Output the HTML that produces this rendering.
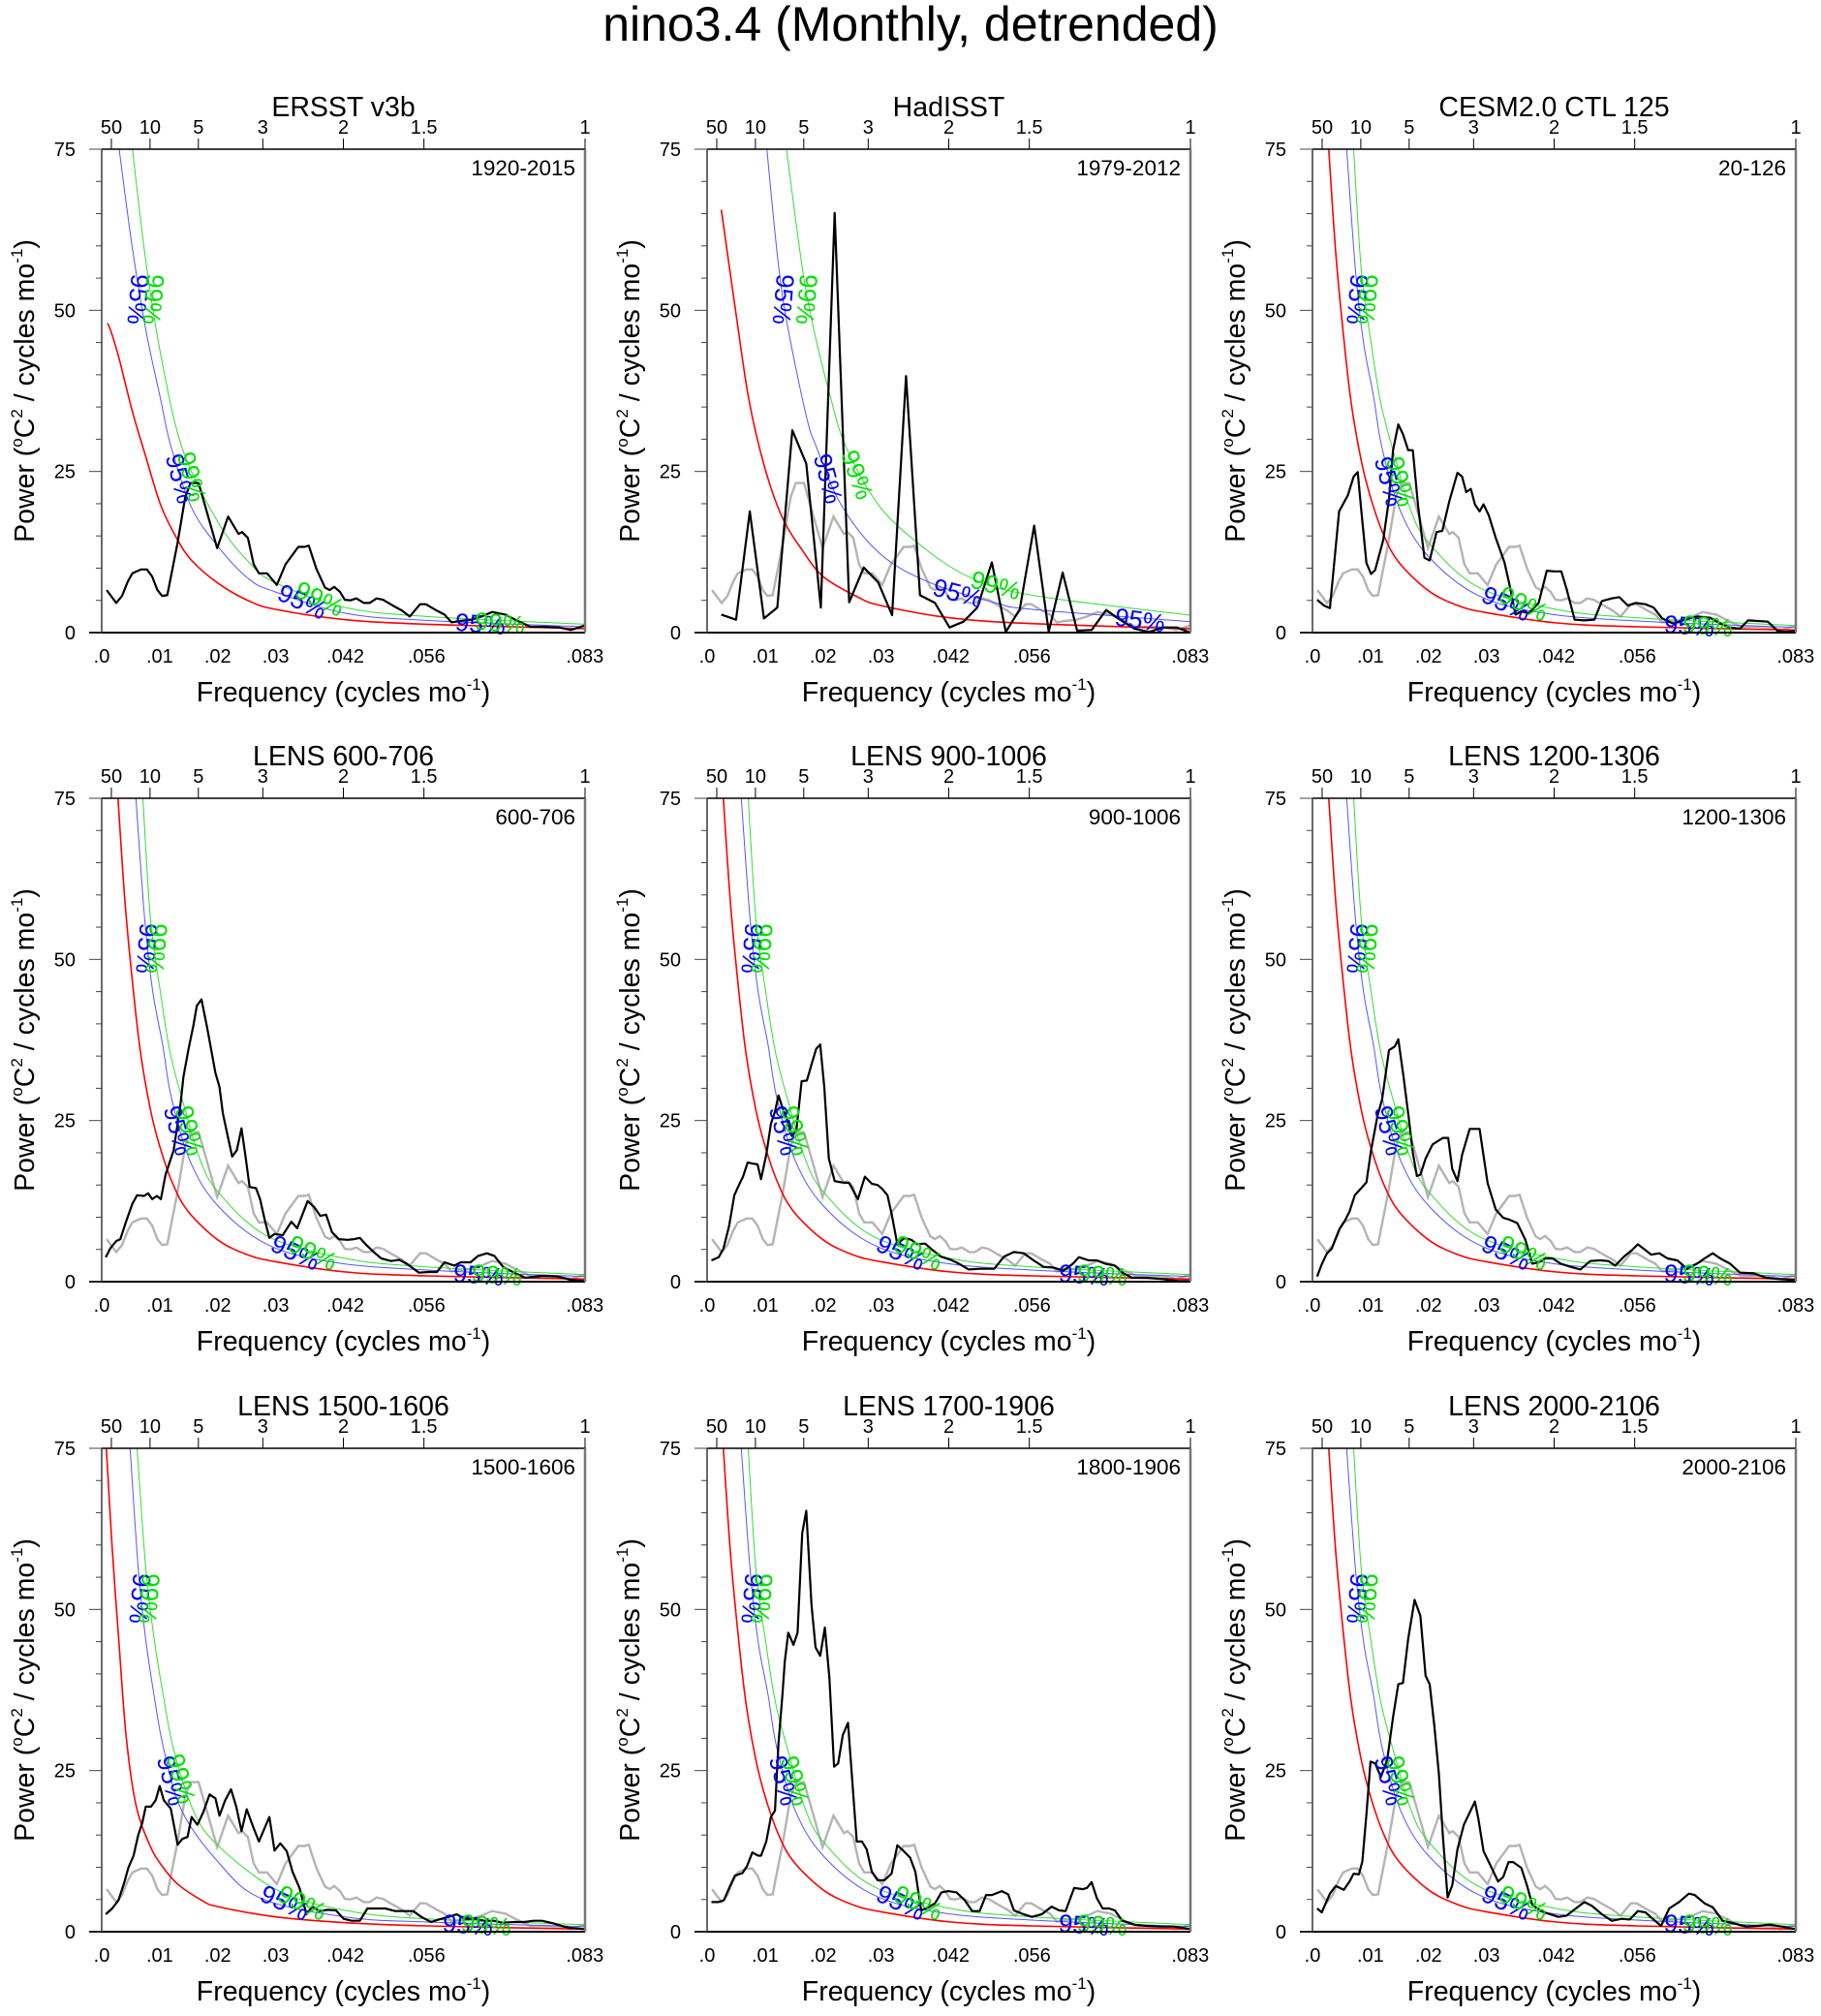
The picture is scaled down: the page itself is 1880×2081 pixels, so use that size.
<!DOCTYPE html>
<html><head><meta charset="utf-8"><title>nino3.4 spectra</title>
<style>
html,body{margin:0;padding:0;background:#fff;}
svg{display:block;font-family:"Liberation Sans",Arial,sans-serif;}
</style></head>
<body>
<svg id="chart" width="1880" height="2081" viewBox="0 0 1880 2081" xmlns="http://www.w3.org/2000/svg">
<rect width="1880" height="2081" fill="#fff"/>
<text x="940" y="42" font-size="50" text-anchor="middle">nino3.4 (Monthly, detrended)</text>
<g id="panels"></g>
</svg>
<script>
// ---- data (frequency in cycles/month, power in degC^2/(cycles/mo)) ----
const yTicks = [0, 25, 50, 75];
const xTickVals = [0, 0.01, 0.02, 0.03, 0.042, 0.056, 0.0833];
const xTickLabels = [".0", ".01", ".02", ".03", ".042", ".056", ".083"];
const periodTicks = [50, 10, 5, 3, 2, 1.5, 1];
const periodLabels = ["50", "10", "5", "3", "2", "1.5", "1"];
const panelTitles = ["ERSST v3b","HadISST","CESM2.0 CTL 125","LENS 600-706","LENS 900-1006","LENS 1200-1306","LENS 1500-1606","LENS 1700-1906","LENS 2000-2106"];
const panelPeriods = ["1920-2015","1979-2012","20-126","600-706","900-1006","1200-1306","1500-1606","1800-1906","2000-2106"];

const ersstFreq = [.00086,.0025,.0035,.0045,.0053,.0068,.0078,.0087,.0096,.0104,.0113,.0131,.0144,.0153,.0167,.0182,.0199,.0218,.0236,.0242,.0252,.0262,.0271,.0285,.0302,.0317,.0339,.0350,.0357,.0370,.0385,.0393,.0401,.0411,.0419,.0429,.0439,.0452,.0462,.0474,.0485,.0502,.0518,.0531,.0549,.0559,.0578,.0591,.0603,.0617,.0637,.0655,.0673,.0696,.0713,.0739,.0762,.0789,.0809,.0833];
const ersstPower = [6.6,4.6,5.7,7.9,9.2,9.8,9.8,8.7,6.6,5.7,5.8,14.0,21.0,23.2,23.2,18.5,13.1,18.0,15.3,15.6,14.7,10.6,9.2,9.2,7.4,10.6,13.3,13.3,13.5,9.9,7.0,6.6,7.1,6.3,5.1,5.0,5.3,4.6,4.6,5.3,5.1,4.2,3.4,2.5,4.4,4.4,3.4,2.8,1.6,1.8,2.0,2.5,3.2,2.8,2.0,0.9,0.9,0.8,0.4,1.1];

const hadFreq = [.00245,.005,.00736,.0098,.0121,.0147,.0171,.0196,.0220,.0245,.0270,.0295,.0319,.0343,.0367,.0393,.0418,.0442,.0466,.0491,.0515,.0539,.0564,.0589,.0613,.0638,.0663,.0688,.0712,.0737,.0762,.0786,.0810,.0833];
const hadPower = [2.8,2.0,18.8,2.2,3.9,31.4,26.2,3.9,65.1,4.7,10.1,7.8,2.7,39.8,5.8,4.6,0.8,1.7,3.9,10.9,0.1,3.6,16.6,0.1,9.3,0.3,0.4,3.5,2.0,0.6,0.1,0.8,0.8,0];

const cesmFreq = [.0008,.002,.003,.0046,.0061,.0071,.0078,.0084,.0093,.0101,.0108,.0122,.0132,.0139,.0148,.0156,.0165,.0173,.0182,.0193,.0202,.0214,.0224,.0236,.0250,.0258,.0265,.0273,.0280,.0288,.0295,.0304,.0316,.0331,.0339,.0350,.0360,.0373,.0390,.0404,.0416,.0429,.0438,.0452,.0469,.0486,.0499,.0516,.0529,.0544,.0557,.0574,.0588,.0603,.0622,.0642,.0663,.0686,.0703,.0720,.0737,.0751,.0768,.0785,.0802,.0816,.0832];
const cesmPower = [5.1,4.2,3.8,18.8,21.3,24.2,24.9,19.1,10.8,9.1,9.7,14.4,20.7,28.3,32.3,30.8,28.3,28.3,19.7,11.6,11.2,15.6,15.8,20.4,24.8,24.2,21.8,22.3,19.9,18.8,19.9,18.2,14.7,10.9,7.7,2.8,3.3,3.0,4.6,9.6,9.5,9.5,6.8,2.0,1.9,2.0,4.9,5.3,5.5,4.2,4.6,4.4,3.9,2.2,1.4,2.0,2.5,2.3,1.4,0.8,0.6,1.9,1.8,1.7,0.25,0.1,0.25];

const lens600Freq = [.0007,.0015,.0025,.0032,.0042,.0053,.0061,.0073,.008,.0087,.0095,.0102,.011,.0124,.0136,.0141,.015,.0158,.0164,.0172,.0182,.0196,.0203,.0209,.0218,.0225,.0233,.0241,.0248,.0255,.0266,.0273,.0281,.0289,.0298,.0312,.0327,.0337,.0355,.0366,.0377,.0387,.0397,.0409,.0424,.0435,.0445,.0455,.0469,.0482,.0499,.0513,.0527,.0547,.0564,.0578,.0591,.0608,.0619,.0636,.0649,.0664,.0677,.0692,.0711,.0731,.0759,.0786,.081,.0833];
const lens600Power = [3.8,5.2,6.3,6.6,9.3,12.1,13.4,13.3,13.7,12.8,13.3,12.8,16.6,20.4,27.6,31.8,36.2,39.7,42.8,43.8,39.3,32.4,30.2,26.1,22.3,19.4,20.4,23.8,19.4,14.7,14.5,12.8,9.6,6.8,7.4,7.2,9.3,8.3,12.5,11.6,10.2,10.4,7.7,6.6,6.5,6.6,6.8,5.8,4.6,3.6,3.2,3.4,2.7,1.4,1.5,1.5,3.0,2.5,3.0,3.0,4.0,4.4,4.0,2.3,1.4,0.6,0.9,0.8,0.25,0.1];

const lens900Freq = [.00075,.002,.0028,.0038,.0047,.0055,.0062,.007,.0079,.0087,.0093,.0102,.011,.0117,.0123,.013,.0137,.0146,.0154,.0163,.0172,.0181,.0188,.0195,.0202,.021,.022,.0232,.0245,.026,.0272,.0284,.0294,.0302,.0311,.0318,.0328,.034,.0352,.0362,.0376,.0389,.0403,.042,.0434,.0451,.0471,.0495,.0512,.0529,.0546,.0563,.058,.0597,.0614,.0631,.0641,.0658,.0672,.0686,.0703,.0716,.0733,.0757,.0785,.0812,.0833];
const lens900Power = [3.3,3.8,5.1,8.7,13.4,15.0,16.3,18.5,18.3,18.2,15.9,19.7,24.5,26.4,28.9,27.0,25.4,22.6,23.5,31.1,31.2,34.0,36.1,36.8,30.2,19.1,15.6,15.4,15.3,12.8,16.3,15.2,15.0,14.4,13.4,10.6,5.8,6.8,6.5,5.8,5.9,4.9,3.9,3.4,2.8,1.9,2.0,2.0,3.9,4.6,4.4,3.3,2.3,2.2,1.7,2.8,3.8,3.3,3.3,2.8,2.5,1.4,0.6,0.6,0.4,0.1,0.1];

const lens1200Freq = [.0008,.0016,.0025,.0033,.0047,.0055,.0064,.0073,.0081,.0093,.0101,.0112,.012,.0132,.0142,.0148,.0157,.0166,.0173,.018,.0186,.0195,.0207,.0216,.0225,.0234,.0241,.025,.0258,.0271,.0288,.0302,.0316,.0329,.034,.0353,.0367,.0379,.039,.0401,.0414,.0428,.0445,.0462,.0479,.0496,.051,.0522,.0537,.0551,.0561,.0574,.0584,.0598,.0612,.0629,.0646,.0663,.0676,.069,.0703,.072,.0737,.0761,.0782,.0805,.0832];
const lens1200Power = [0.8,2.7,4.4,5.1,8.2,9.3,10.9,13.4,14.2,15.4,20.4,25.7,28.3,35.9,36.5,37.6,31.8,25.4,20.0,16.4,16.6,19.1,21.3,21.8,22.3,22.3,17.5,15.6,19.7,23.7,23.7,15.3,11.2,9.9,9.6,9.1,6.5,2.8,3.0,3.6,3.6,2.8,2.3,1.9,3.2,3.3,3.2,2.5,3.9,4.9,5.8,4.9,4.2,4.4,3.6,3.3,2.0,2.8,3.6,4.4,3.6,2.8,1.4,1.3,0.6,0.4,0.25];

const lens1500Freq = [.0007,.0018,.0029,.0039,.0046,.0055,.0063,.007,.0076,.0085,.0093,.01,.0107,.0119,.0131,.0139,.0148,.0155,.0165,.0175,.0186,.0196,.0203,.0213,.0223,.0232,.0241,.025,.0261,.0271,.028,.0289,.0298,.0308,.0319,.0329,.0341,.0353,.0363,.0375,.039,.0404,.0417,.0431,.0445,.0458,.0475,.0489,.0506,.052,.0537,.0551,.0568,.0581,.0598,.0612,.0626,.0643,.066,.0677,.069,.0711,.0728,.0745,.0759,.0779,.0793,.0806,.0833];
const lens1500Power = [2.7,3.6,4.9,7.7,9.9,11.8,15.0,16.9,19.4,19.4,20.4,22.6,20.4,19.1,13.5,14.4,14.7,17.8,16.6,18.5,21.3,20.7,18.0,20.4,22.1,19.4,15.6,19.0,16.3,14.0,15.9,17.8,12.6,13.7,12.5,9.3,6.8,2.7,3.9,3.2,3.4,3.3,2.0,1.7,1.7,3.6,3.6,3.6,3.2,3.2,3.2,2.3,1.5,1.9,2.3,2.7,2.0,2.0,1.7,1.7,1.4,1.5,1.5,1.7,1.7,1.3,0.9,0.6,0.4];

const lens1800Freq = [.00075,.002,.0029,.0038,.0048,.0061,.0069,.0078,.0088,.0093,.0102,.011,.0117,.0123,.013,.0134,.014,.0149,.0156,.0164,.0171,.018,.0187,.0195,.0203,.0211,.0219,.0226,.0234,.0243,.0258,.0267,.0275,.0284,.0294,.0306,.0318,.0328,.0338,.035,.0359,.0369,.0382,.0393,.0404,.0416,.043,.0444,.0457,.047,.0481,.0491,.0508,.0519,.0529,.0543,.056,.0577,.0594,.0607,.0618,.0633,.0648,.0655,.0663,.0672,.0682,.0693,.0703,.0716,.0737,.0757,.0781,.0805,.0833];
const lens1800Power = [4.6,4.6,4.9,6.8,8.7,9.1,10.2,12.3,11.8,11.8,14.0,17.8,18.8,29.2,36.8,41.9,46.4,44.5,46.4,61.8,65.3,50.7,44.1,42.8,47.2,39.3,25.6,26.1,30.5,32.4,14.0,14.0,12.8,9.3,8.0,8.0,9.0,13.4,12.6,11.5,9.3,3.3,3.8,4.4,6.1,6.3,6.1,4.9,3.2,3.2,5.7,5.7,6.3,5.8,3.3,2.8,2.3,2.7,3.9,3.3,3.2,6.8,6.6,6.8,7.7,5.2,3.6,3.6,3.3,1.7,1.1,0.9,0.8,0.8,0.4];

const lens2000Freq = [.0008,.0016,.003,.004,.0054,.0064,.0071,.008,.0086,.0093,.01,.0108,.0118,.0129,.0139,.0148,.0156,.0165,.0176,.0186,.0195,.0202,.021,.0218,.0225,.0233,.0241,.025,.0261,.028,.0286,.0295,.0309,.032,.0329,.0338,.0346,.036,.037,.0379,.0394,.0407,.0424,.0438,.0454,.0469,.0482,.0499,.0516,.0533,.0547,.0561,.0574,.0588,.0601,.0615,.0632,.0649,.0659,.0676,.069,.0707,.0727,.0748,.0768,.0788,.0809,.0832];
const lens2000Power = [3.6,3.0,5.9,7.1,6.5,7.8,9.0,8.9,10.9,18.2,26.4,26.1,24.0,26.7,33.3,38.4,38.6,45.4,51.5,49.0,39.7,38.4,32.1,24.5,14.7,5.3,7.2,12.8,16.6,20.2,17.5,12.5,9.9,7.8,8.5,10.8,10.8,9.9,7.1,4.2,3.2,2.8,2.3,2.5,3.6,4.6,4.0,2.7,1.7,2.0,1.9,3.2,3.0,1.9,0.9,3.6,4.6,5.9,5.7,4.4,3.8,1.7,1.3,0.8,0.9,1.1,0.8,0.4];

// red-noise spectrum and 95% / 99% confidence curves
const ersstCurveFreq = [.001,.00165,.003,.0053,.0076,.0102,.0129,.0155,.02,.0254,.030,.042,.056,.0833];
const ersstRed   = [48,46.6,42.5,34.3,27.3,19.7,14.7,11.2,7.7,4.9,3.6,2.0,1.3,0.6];
const ersstBlueFreq = [.003,.0053,.0076,.0102,.0119,.0155,.02,.0254,.030,.042,.056,.0833];
const ersstBlue  = [75,59.6,47,36,29,19.4,13.4,8.3,6.3,3.0,1.9,0.9];
const ersstGreenFreq = [.0053,.0076,.0102,.0139,.02,.0254,.030,.042,.056,.0833];
const ersstGreen = [75,57.7,43,28.6,17.2,10.9,7.7,3.9,2.5,1.3];

const hadRedFreq = [.00245,.0048,.0072,.01,.013,.0164,.02,.026,.03,.0418,.056,.0833];
const hadRed   = [65.6,50.7,36.2,25.4,17.8,12.8,8.7,5.5,4.2,2.3,1.4,0.6];
const hadBlueFreq = [.0103,.0123,.014,.0171,.0188,.0232,.030,.0386,.0498,.056,.0833];
const hadBlue  = [75,57,47,33.6,28.9,19.7,12.1,7.7,4.6,3.6,1.7];
const hadGreenFreq = [.0137,.0164,.0185,.0212,.0239,.0294,.0362,.045,.056,.0833];
const hadGreen = [75,56.7,46.6,36.8,28.9,20,14,8.7,5.8,2.7];

const lensRedFreq = [.0028,.004,.0054,.0067,.0084,.01,.0122,.0149,.02,.0251,.03,.0421,.056,.0833];
const lensRed   = [75,59,45.7,35.5,26.7,21,15.3,10.9,6.5,4.2,3.1,1.5,0.9,0.4];
const lensBlueFreq = [.0059,.0074,.0088,.0105,.012,.0152,.02,.0285,.040,.056,.0833];
const lensBlue  = [75,56.4,45,36.8,28.6,18.8,11.8,5.8,3.0,1.8,0.8];
const lensGreenFreq = [.0071,.0084,.0101,.0118,.0142,.0169,.02,.0285,.042,.056,.0833];
const lensGreen = [75,56.4,45,35.5,27.3,19.1,14.0,7.1,3.6,2.3,1.1];

const l1500RedFreq = [.0008,.0018,.0029,.0042,.0059,.0083,.0104,.0131,.0172,.02,.03,.042,.056,.0833];
const l1500Red   = [75,59.6,45.7,30.5,19.7,13.4,10.2,7.4,4.9,3.9,2.3,1.4,0.9,0.4];
const l1500BlueFreq = [.0049,.0063,.0075,.009,.0107,.0138,.02,.0274,.042,.056,.0833];
const l1500Blue  = [75,56.4,46,36.8,28.3,18.8,10.9,5.2,2.3,1.5,0.8];
const l1500GreenFreq = [.0061,.0076,.009,.0107,.0124,.0158,.02,.0302,.042,.056,.0833];
const l1500Green = [75,56.4,45.7,36.2,28.3,18.8,13.4,6.5,3.3,2.0,1.1];

// ---- layout ----
const PW = 499, PH = 499, FMAX = 1/12, VMAX = 75;
const colLeft = [105, 730, 1355];
const rowTop = [154, 824, 1495];
const NS = 'http://www.w3.org/2000/svg';
const root = document.getElementById('panels');

function mk(tag, attrs, parent) {
  const e = document.createElementNS(NS, tag);
  for (const k in attrs) e.setAttribute(k, attrs[k]);
  if (parent) parent.appendChild(e);
  return e;
}
function xs(L, f) { return L + f / FMAX * PW; }
function ys(T, v) { return T + PH - v / VMAX * PH; }

function linePath(L, T, fr, pw) {
  let d = '';
  for (let i = 0; i < fr.length; i++) d += (i ? 'L' : 'M') + xs(L, fr[i]).toFixed(1) + ',' + ys(T, pw[i]).toFixed(1);
  return d;
}
function smoothPath(L, T, fr, pw) {
  const p = fr.map((f, i) => [xs(L, f), ys(T, pw[i])]);
  let d = 'M' + p[0][0].toFixed(1) + ',' + p[0][1].toFixed(1);
  for (let i = 0; i < p.length - 1; i++) {
    const p0 = p[i - 1] || p[i], p1 = p[i], p2 = p[i + 1], p3 = p[i + 2] || p2;
    const c1x = p1[0] + (p2[0] - p0[0]) / 6, c1y = p1[1] + (p2[1] - p0[1]) / 6;
    const c2x = p2[0] - (p3[0] - p1[0]) / 6, c2y = p2[1] - (p3[1] - p1[1]) / 6;
    d += 'C' + c1x.toFixed(1) + ',' + c1y.toFixed(1) + ' ' + c2x.toFixed(1) + ',' + c2y.toFixed(1) + ' ' + p2[0].toFixed(1) + ',' + p2[1].toFixed(1);
  }
  return d;
}

const panelSeries = [
  [ersstFreq, ersstPower], [hadFreq, hadPower], [cesmFreq, cesmPower],
  [lens600Freq, lens600Power], [lens900Freq, lens900Power], [lens1200Freq, lens1200Power],
  [lens1500Freq, lens1500Power], [lens1800Freq, lens1800Power], [lens2000Freq, lens2000Power]
];
const curveSets = {
  ersst: [ersstCurveFreq, ersstRed, ersstBlueFreq, ersstBlue, ersstGreenFreq, ersstGreen],
  had: [hadRedFreq, hadRed, hadBlueFreq, hadBlue, hadGreenFreq, hadGreen],
  lens: [lensRedFreq, lensRed, lensBlueFreq, lensBlue, lensGreenFreq, lensGreen],
  l1500: [l1500RedFreq, l1500Red, l1500BlueFreq, l1500Blue, l1500GreenFreq, l1500Green]
};
const panelCurves = ['ersst','had','lens','lens','lens','lens','l1500','lens','lens'];
// confidence label placement [dx, dy, rotation]
const labelSets = {
  ersst: [[37.6,155,95,'b'],[53.4,155,95,'g'],[81,340,75,'b'],[93,338,75,'g'],[207,467,25,'b'],[225,464,25,'g'],[391,490,5,'b'],[411,489,5,'g']],
  had: [[78.8,155,95,'b'],[103,155,95,'g'],[125,340,75,'b'],[155,336,70,'g'],[259,458,15,'b'],[298,450,15,'g'],[447,486,8,'b']],
  lens: [[46.5,155,95,'b'],[56.7,155,95,'g'],[79,343,75,'b'],[91,343,75,'g'],[200,469,25,'b'],[218,469,25,'g'],[389,492,5,'b'],[408,492,5,'g']],
  l1500: [[39.6,155,95,'b'],[49,155,95,'g'],[72,343,75,'b'],[82,341,75,'g'],[189,469,25,'b'],[207,469,25,'g'],[378,492,5,'b'],[397,492,5,'g']]
};

for (let p = 0; p < 9; p++) {
  const L = colLeft[p % 3], T = rowTop[Math.floor(p / 3)];
  const g = mk('g', {}, root);
  
  
  const cp = mk('clipPath', {id: 'clip' + p}, g);
  mk('rect', {x: L, y: T, width: PW, height: PH}, cp);

  // title
  const t = mk('text', {x: L + PW / 2, y: T - 34, 'font-size': 28.5, 'text-anchor': 'middle'}, g);
  
  
  t.textContent = panelTitles[p];
  const pt = mk('text', {x: L + PW - 10, y: T + 27, 'font-size': 22.5, 'text-anchor': 'end'}, g);
  
  
  pt.textContent = panelPeriods[p];

  // curves
  const cs = curveSets[panelCurves[p]];
  const cg = mk('g', {'clip-path': 'url(#clip' + p + ')', fill: 'none'}, g);
  if (p > 0) {
    const gr = mk('path', {d: linePath(L, T, ersstFreq, ersstPower), stroke: '#b4b4b4', 'stroke-width': 2.4}, cg);
    
    
  }
  const red = mk('path', {d: smoothPath(L, T, cs[0], cs[1]), stroke: '#ff0000', 'stroke-width': 1.6}, cg);
  
  
  const blu = mk('path', {d: smoothPath(L, T, cs[2], cs[3]), stroke: '#5555ff', 'stroke-width': 1}, cg);
  
  
  const grn = mk('path', {d: smoothPath(L, T, cs[4], cs[5]), stroke: '#33dd33', 'stroke-width': 1}, cg);
  
  
  const blk = mk('path', {d: linePath(L, T, panelSeries[p][0], panelSeries[p][1]), stroke: '#000', 'stroke-width': 2.2, 'stroke-linejoin': 'round'}, cg);
  
  

  // labels
  labelSets[panelCurves[p]].forEach(function (lb) {
    const tx = mk('text', {transform: 'translate(' + (L + lb[0]) + ',' + (T + lb[1]) + ') rotate(' + lb[2] + ')', 'font-size': 26, 'text-anchor': 'middle', 'dominant-baseline': 'central', fill: lb[3] === 'b' ? '#0000ff' : '#00e000'}, g);
    
    
    tx.textContent = lb[3] === 'b' ? '95%' : '99%';
  });

  // axes frame
  mk('line', {x1: L, y1: T, x2: L + PW, y2: T, stroke: '#000', 'stroke-width': 1.5}, g);
  mk('line', {x1: L - 13, y1: T + PH, x2: L + PW, y2: T + PH, stroke: '#000', 'stroke-width': 2}, g);
  mk('line', {x1: L, y1: T, x2: L, y2: T + PH, stroke: '#444', 'stroke-width': 1.6}, g);
  mk('line', {x1: L + PW, y1: T, x2: L + PW, y2: T + PH, stroke: '#777', 'stroke-width': 2.5}, g);

  // y ticks
  for (let v = 0; v <= VMAX; v += 5) {
    const major = v % 25 === 0;
    mk('line', {x1: L - (major ? 13 : 6), y1: ys(T, v), x2: L, y2: ys(T, v), stroke: '#444', 'stroke-width': 1}, g);
  }
  yTicks.forEach(function (v) {
    const tx = mk('text', {x: L - 27, y: ys(T, v) + 7, 'font-size': 20, 'text-anchor': 'end'}, g);
    
    
    tx.textContent = String(v);
  });
  // x ticks
  xTickVals.forEach(function (f, i) {
    const tx = mk('text', {x: xs(L, f), y: T + PH + 31, 'font-size': 20, 'text-anchor': 'middle'}, g);
    
    
    tx.textContent = xTickLabels[i];
  });
  // top period ticks
  periodTicks.forEach(function (yr, i) {
    const x = xs(L, 1 / (12 * yr));
    mk('line', {x1: x, y1: T - 11, x2: x, y2: T, stroke: '#000', 'stroke-width': 1}, g);
    const tx = mk('text', {x: x, y: T - 16, 'font-size': 20, 'text-anchor': 'middle'}, g);
    
    
    tx.textContent = periodLabels[i];
  });
  // axis titles
  const xt = mk('text', {x: L + PW / 2, y: T + PH + 71, 'font-size': 28.5, 'text-anchor': 'middle'}, g);
  
  
  xt.innerHTML = 'Frequency (cycles mo<tspan dy="-12" font-size="17">-1</tspan><tspan dy="12">)</tspan>';
  const yt = mk('text', {transform: 'translate(' + (L - 70) + ',' + (T + PH / 2) + ') rotate(-90)', 'font-size': 28.5, 'text-anchor': 'middle'}, g);
  
  
  yt.innerHTML = 'Power (<tspan dy="-12" font-size="17">o</tspan><tspan dy="12">C</tspan><tspan dy="-12" font-size="17">2</tspan><tspan dy="12"> / cycles mo</tspan><tspan dy="-12" font-size="17">-1</tspan><tspan dy="12">)</tspan>';
}
</script>
</body></html>
